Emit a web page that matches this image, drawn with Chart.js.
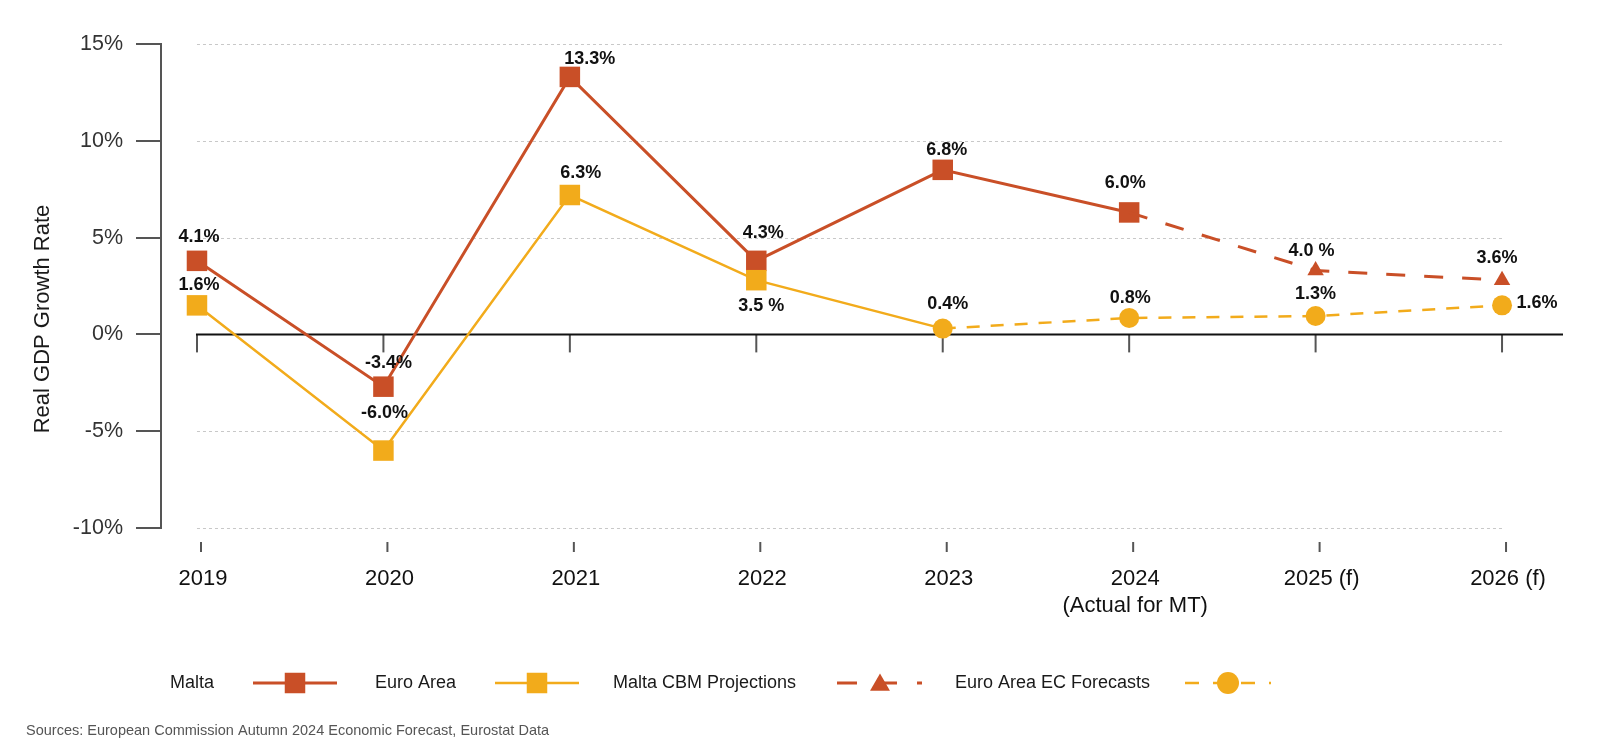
<!DOCTYPE html>
<html>
<head>
<meta charset="utf-8">
<title>Real GDP Growth Rate</title>
<script src="https://cdn.jsdelivr.net/npm/chart.js@4.4.1/dist/chart.umd.min.js"></script>
<style>
  html, body { margin: 0; padding: 0; background: #fff; }
  #wrap { position: relative; width: 1600px; height: 754px; }
</style>
</head>
<body>
<div id="wrap"><canvas id="gdpChart"></canvas></div>
<script>
// data
const categories = ['2019', '2020', '2021', '2022', '2023', ['2024', '(Actual for MT)'], '2025 (f)', '2026 (f)'];
const maltaValues = [3.8, -2.7, 13.3, 3.8, 8.5, 6.3, 3.3, 2.8];
const euroValues = [1.5, -6.0, 7.2, 2.8, 0.3, 0.85, 0.95, 1.5];
const maltaLabels = ['4.1%', '-3.4%', '13.3%', '4.3%', '6.8%', '6.0%', '4.0 %', '3.6%'];
const euroLabels = ['1.6%', '-6.0%', '6.3%', '3.5 %', '0.4%', '0.8%', '1.3%', '1.6%'];
const maltaForecastFrom = 5;   // 2025 onward is projection, line starts at 2024
const euroForecastFrom = 4;    // 2024 onward is forecast, line starts at 2023
const yTicks = [-10, -5, 0, 5, 10, 15];
const legendNames = ['Malta', 'Euro Area', 'Malta CBM Projections', 'Euro Area EC Forecasts'];

const RED = '#C94F27';
const YELLOW = '#F2AB1B';
const FONT = "'Liberation Sans', Arial, Helvetica, sans-serif";

// label placement (px, relative to the point)
const maltaLabelOffsets = [[2, -24], [5, -24], [20, -18], [7, -28], [4, -20], [-4, -29], [-4, -19], [-5, -22]];
const euroLabelOffsets = [[2, -20], [1, -38], [11, -22], [5, 26], [5, -25], [1, -20], [0, -22], [35, -2]];

function pts(values, from, to) {
  return values.map((v, i) => ({ x: i, y: (i >= from && i <= to) ? v : null }));
}

const last = categories.length - 1;

const datasets = [
  {
    label: legendNames[0],
    data: pts(maltaValues, 0, maltaForecastFrom),
    borderColor: RED, backgroundColor: RED, borderWidth: 3,
    pointStyle: 'rect', pointRadius: 14.5, pointBorderWidth: 0,
    order: 3
  },
  {
    label: legendNames[1],
    data: pts(euroValues, 0, euroForecastFrom),
    borderColor: YELLOW, backgroundColor: YELLOW, borderWidth: 2.5,
    pointStyle: 'rect', pointBorderWidth: 0,
    pointRadius: ctx => ctx.dataIndex >= euroForecastFrom ? 0 : 14.5,
    order: 1
  },
  {
    label: legendNames[2],
    data: pts(maltaValues, maltaForecastFrom, last),
    borderColor: RED, backgroundColor: RED, borderWidth: 3, borderDash: [19, 19],
    pointStyle: 'triangle', pointBorderWidth: 0,
    pointRadius: ctx => ctx.dataIndex <= maltaForecastFrom ? 0 : 9.5,
    order: 2
  },
  {
    label: legendNames[3],
    data: pts(euroValues, euroForecastFrom, last),
    borderColor: YELLOW, backgroundColor: YELLOW, borderWidth: 2.5, borderDash: [13, 11],
    pointStyle: 'circle', pointRadius: 10, pointBorderWidth: 0,
    order: 0
  }
];

function drawMarker(ctx, style, r, x, y) {
  ctx.beginPath();
  if (style === 'rect') {
    const s = Math.SQRT1_2 * r;
    ctx.rect(x - s, y - s, 2 * s, 2 * s);
  } else if (style === 'triangle') {
    ctx.moveTo(x, y - r);
    ctx.lineTo(x + Math.sin(2 * Math.PI / 3) * r, y + 0.5 * r);
    ctx.lineTo(x - Math.sin(2 * Math.PI / 3) * r, y + 0.5 * r);
    ctx.closePath();
  } else {
    ctx.arc(x, y, r, 0, Math.PI * 2);
  }
  ctx.fill();
}

function line(ctx, x1, y1, x2, y2) {
  ctx.beginPath();
  ctx.moveTo(x1, y1);
  ctx.lineTo(x2, y2);
  ctx.stroke();
}

const decorPlugin = {
  id: 'decor',
  beforeDatasetsDraw(chart) {
    const { ctx, chartArea, scales: { x, y } } = chart;
    const x0 = x.getPixelForValue(0);
    const x1 = x.getPixelForValue(last);
    ctx.save();
    // dashed gridlines
    ctx.strokeStyle = '#c8c8c8';
    ctx.lineWidth = 1;
    ctx.setLineDash([3, 3]);
    yTicks.forEach(t => {
      if (t === 0) return;
      const py = Math.round(y.getPixelForValue(t)) + 0.5;
      line(ctx, x0, py, x1, py);
    });
    // zero line with ticks
    ctx.setLineDash([]);
    const zy = y.getPixelForValue(0);
    ctx.strokeStyle = '#555';
    ctx.lineWidth = 2;
    categories.forEach((c, i) => {
      const px = x.getPixelForValue(i);
      line(ctx, px, zy, px, zy + 18);
      line(ctx, px + 4, chartArea.bottom + 14, px + 4, chartArea.bottom + 24);
    });
    ctx.strokeStyle = '#111';
    line(ctx, x0 - 1, zy, chartArea.right, zy);
    ctx.restore();
  },
  afterDatasetsDraw(chart) {
    const { ctx, scales: { x, y } } = chart;
    ctx.save();
    ctx.font = 'bold 18px ' + FONT;
    ctx.fillStyle = '#111';
    ctx.textAlign = 'center';
    ctx.textBaseline = 'middle';
    maltaLabels.forEach((t, i) => {
      const o = maltaLabelOffsets[i];
      ctx.fillText(t, x.getPixelForValue(i) + o[0], y.getPixelForValue(maltaValues[i]) + o[1]);
    });
    euroLabels.forEach((t, i) => {
      const o = euroLabelOffsets[i];
      ctx.fillText(t, x.getPixelForValue(i) + o[0], y.getPixelForValue(euroValues[i]) + o[1]);
    });
    ctx.restore();
  },
  afterDraw(chart) {
    const { ctx } = chart;
    ctx.save();
    // y axis title
    ctx.translate(43, 319);
    ctx.rotate(-Math.PI / 2);
    ctx.font = '22px ' + FONT;
    ctx.fillStyle = '#1a1a1a';
    ctx.textAlign = 'center';
    ctx.textBaseline = 'middle';
    ctx.fillText('Real GDP Growth Rate', 0, 0);
    ctx.restore();

    // legend: label first, then its symbol
    const ly = 683;
    const textX = [170, 375, 613, 955];
    const symX = [[253, 337], [495, 579], [837, 922], [1185, 1271]];
    const symR = { rect: 14.5, triangle: 11.5, circle: 11 };
    ctx.save();
    ctx.font = '18px ' + FONT;
    ctx.textBaseline = 'middle';
    ctx.textAlign = 'left';
    ctx.fillStyle = '#1a1a1a';
    legendNames.forEach((n, i) => ctx.fillText(n, textX[i], ly));
    chart.data.datasets.forEach((ds, i) => {
      const [a, b] = symX[i];
      ctx.strokeStyle = ds.borderColor;
      ctx.lineWidth = ds.borderWidth;
      ctx.setLineDash(ds.borderDash ? [ds.borderDash[0] + 1, ds.borderDash[0] + 1] : []);
      line(ctx, a, ly, b, ly);
      ctx.setLineDash([]);
      ctx.fillStyle = ds.backgroundColor;
      const cx = ds.pointStyle === 'rect' ? (a + b) / 2 : (ds.pointStyle === 'triangle' ? 880 : 1228);
      drawMarker(ctx, ds.pointStyle, symR[ds.pointStyle], cx, ds.pointStyle === 'triangle' ? ly + 2 : ly);
    });
    // source
    ctx.font = '14.5px ' + FONT;
    ctx.fillStyle = '#555';
    ctx.fillText('Sources: European Commission Autumn 2024 Economic Forecast, Eurostat Data', 26, 731);
    ctx.restore();
  }
};

new Chart(document.getElementById('gdpChart'), {
  type: 'line',
  data: { datasets: datasets },
  options: {
    responsive: true,
    maintainAspectRatio: false,
    animation: false,
    events: [],
    layout: { padding: { top: 44, right: 37, bottom: 136, left: 0 } },
    plugins: {
      legend: { display: false },
      tooltip: { enabled: false }
    },
    scales: {
      x: {
        type: 'linear',
        min: -0.193,
        max: 7.327,
        grid: { display: false, drawTicks: false },
        border: { display: false },
        ticks: {
          stepSize: 1,
          includeBounds: false,
          autoSkip: false,
          maxRotation: 0,
          padding: 38,
          labelOffset: 6,
          color: '#111',
          font: { family: FONT, size: 22 },
          callback: v => categories[v]
        },
        afterFit(s) { s.height = 90; }
      },
      y: {
        min: yTicks[0],
        max: yTicks[yTicks.length - 1],
        grid: { drawOnChartArea: false, tickLength: 25, color: '#555', lineWidth: 2 },
        border: { color: '#555', width: 2 },
        ticks: {
          stepSize: 5,
          padding: 13,
          color: '#333',
          font: { family: FONT, size: 21.5 },
          callback: v => v + '%'
        },
        afterFit(s) { s.width = 161; }
      }
    }
  },
  plugins: [decorPlugin]
});
</script>
</body>
</html>
